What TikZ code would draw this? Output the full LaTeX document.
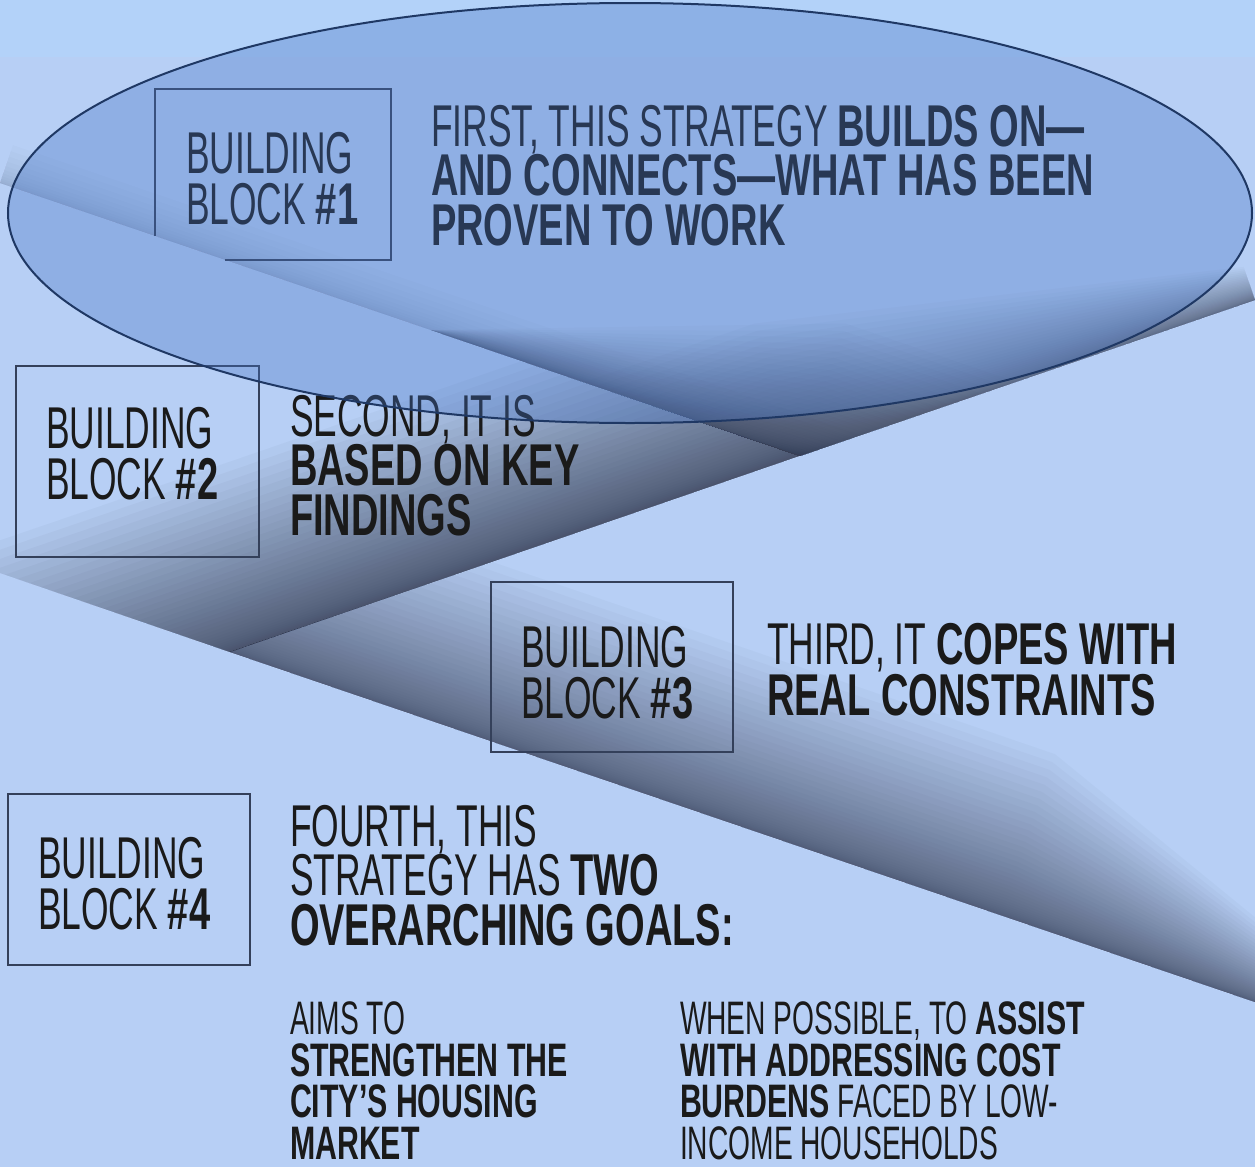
\documentclass[tikz,border=0pt]{standalone}
\usepackage{fontspec}
\setmainfont{Liberation Sans}[UprightFeatures={FakeStretch=0.60}, BoldFeatures={FakeStretch=0.645}]
\usetikzlibrary{calc}

\definecolor{bgblue}{RGB}{183,207,245}
\definecolor{topblue}{RGB}{179,210,249}
\definecolor{shadowc}{RGB}{55,62,84}
\definecolor{ovalfill}{RGB}{68,114,196}
\definecolor{ovalline}{RGB}{31,56,100}
\definecolor{inkc}{RGB}{26,26,26}
\definecolor{framec}{RGB}{52,64,90}

% Soft shadow beside a fold through #1, #2, #3: stacked translucent strips
% between the fold and an offset edge along the normal #4, #5/#6/#7 deep at
% the three points, #8 strips of opacity #9 each (strips crowd towards the fold).
\newcommand\foldshade[9]{%
  \foreach \k in {1,...,#8}{%
    \pgfmathsetmacro\fda{#5*(\k/#8)^2}%
    \pgfmathsetmacro\fdb{#6*(\k/#8)^2}%
    \pgfmathsetmacro\fdc{#7*(\k/#8)^2}%
    \fill[shadowc, fill opacity=#9] (#1) -- (#2) -- (#3) -- ($(#3)+\fdc*#4$)
      -- ($(#2)+\fdb*#4$) -- ($(#1)+\fda*#4$) -- cycle;
  }}

\begin{document}
\begin{tikzpicture}[x=1pt,y=-1pt,
  framebox/.style={rectangle, draw=framec, line width=1.5pt, inner sep=0pt},
  frameline/.style={draw=framec, line width=1.5pt},
  lbl/.style={anchor=north west, inner sep=0pt, outer sep=0pt, align=left, text=inkc,
    font=\fontsize{59pt}{51pt}\selectfont},
  body/.style={anchor=north west, inner sep=0pt, outer sep=0pt, align=left, text=inkc,
    font=\fontsize{59pt}{49.5pt}\selectfont},
  goal/.style={anchor=north west, inner sep=0pt, outer sep=0pt, align=left, text=inkc,
    font=\fontsize{47pt}{41.5pt}\selectfont}
]
\useasboundingbox (0,0) rectangle (1255,1167);
\fill[bgblue] (0,0) rectangle (1255,1167);
\fill[topblue] (0,0) rectangle (1255,57);

% fold lines of the zigzag paper
\coordinate (A) at (230,652);      % lower fold meets rising fold
\coordinate (Q) at (800,456);      % upper apex
\coordinate (L1w) at (0,183);
\coordinate (L1m) at (430,330);
\coordinate (L2e) at (1255,300);
\coordinate (L3w) at (0,573);
\coordinate (L3e) at (1255,1002);
% the same folds carried past the picture (the clips trim them)
\coordinate (L2x) at (-60,751);
\coordinate (L2q) at (857,436);
\coordinate (L1x) at (1300,627);
\coordinate (L3m) at (1000,915);

% left wedge: shadow along the rising fold
\begin{scope}
  \clip (L1w) -- (Q) -- (A) -- (L3w) -- cycle;
  \foldshade{L2x}{A}{L2q}{(-0.3248,-0.9458)}{180}{180}{180}{40}{0.040}
\end{scope}

% upper sheet: shadow gathering at the apex
\begin{scope}
  \clip (0,0) -- (1255,0) -- (L2e) -- (Q) -- (L1w) -- cycle;
  \foldshade{L1w}{Q}{L1x}{(0.3230,-0.9464)}{40}{40}{40}{12}{0.020}
  \foldshade{L1m}{Q}{L1x}{(0.3230,-0.9464)}{0}{140}{140}{36}{0.028}
  \foldshade{L2x}{Q}{L2e}{(-0.3248,-0.9458)}{140}{140}{35}{36}{0.028}
\end{scope}

% right sheet: shadow along the lower fold
\begin{scope}
  \clip (A) -- (L2e) -- (L3e) -- cycle;
  \foldshade{A}{L3m}{L3e}{(0.3235,-0.9462)}{170}{170}{70}{40}{0.030}
\end{scope}

% building block frames
\node[rectangle, inner sep=0pt, minimum width=236pt, minimum height=171pt] (b1) at (273,174.5) {};
\draw[frameline] ([yshift=24pt]b1.south west) -- (b1.north west) -- (b1.north east)
  -- (b1.south east) -- ([xshift=70pt]b1.south west);
\node[framebox, minimum width=243pt, minimum height=191pt] (b2) at (137.5,461.5) {};
\node[framebox, minimum width=242pt, minimum height=170pt] (b3) at (612,667) {};
\node[framebox, minimum width=242pt, minimum height=171pt] (b4) at (129,879.5) {};

% block labels
\node[lbl] (l1) at (186,132) {BUILDING\\BLOCK \textbf{\#1}};
\node[lbl] (l2) at (46,407) {BUILDING\\BLOCK \textbf{\#2}};
\node[lbl] (l3) at (521,626) {BUILDING\\BLOCK \textbf{\#3}};
\node[lbl] (l4) at (38,837) {BUILDING\\BLOCK \textbf{\#4}};

% statements
\node[body] (t1) at (431,105) {FIRST, THIS STRATEGY \textbf{BUILDS ON—}\\
  \textbf{AND CONNECTS—WHAT HAS BEEN}\\ \textbf{PROVEN TO WORK}};
\node[body] (t2) at (290,395) {SECOND, IT IS\\ \textbf{BASED ON KEY}\\ \textbf{FINDINGS}};
\node[body, font=\fontsize{59pt}{51pt}\selectfont] (t3) at (767,623) {THIRD, IT \textbf{COPES WITH}\\ \textbf{REAL CONSTRAINTS}};
\node[body] (t4) at (290,805) {FOURTH, THIS\\ STRATEGY HAS \textbf{TWO}\\ \textbf{OVERARCHING GOALS:}};

% the two goals
\node[goal] (g1) at (290,1002) {AIMS TO\\ \textbf{STRENGTHEN THE}\\ \textbf{CITY’S HOUSING}\\ \textbf{MARKET}};
\node[goal] (g2) at (680,1002) {WHEN POSSIBLE, TO \textbf{ASSIST}\\ \textbf{WITH ADDRESSING COST}\\
  \textbf{BURDENS} FACED BY LOW-\\ INCOME HOUSEHOLDS};

% translucent oval over the first block
\draw[fill=ovalfill, fill opacity=0.34, draw=ovalline, line width=2pt]
  (630,213) ellipse [x radius=622pt, y radius=210pt];
\end{tikzpicture}
\end{document}
